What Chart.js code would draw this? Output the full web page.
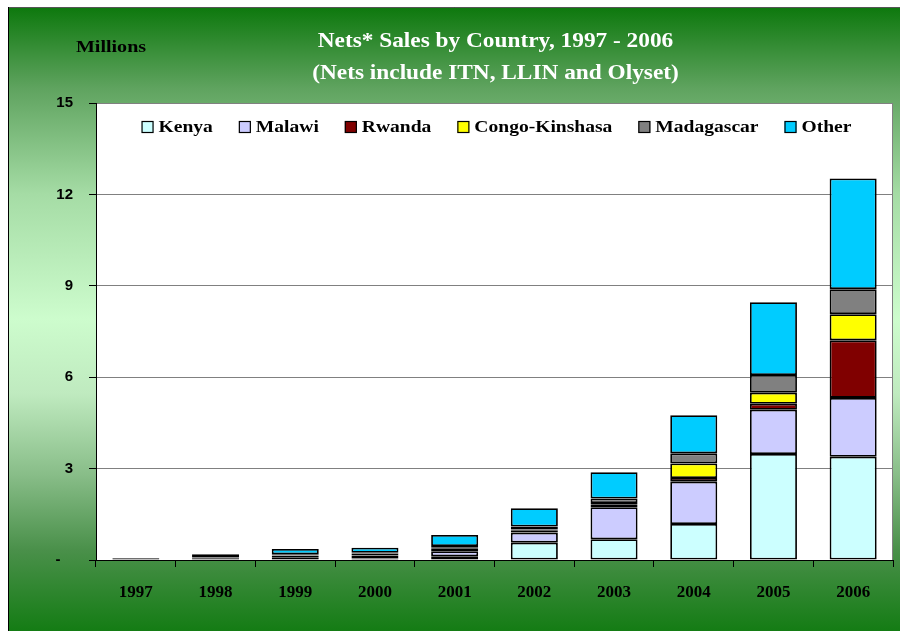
<!DOCTYPE html>
<html>
<head>
<meta charset="utf-8">
<script src="https://cdn.jsdelivr.net/npm/chart.js@4"></script>
<style>
html,body{margin:0;padding:0;background:#fff;}
#wrap{position:relative;width:900px;height:631px;}
</style>
</head>
<body>
<div id="wrap"><canvas id="c" width="900" height="631"></canvas></div>
<script>
const categories = ['1997','1998','1999','2000','2001','2002','2003','2004','2005','2006'];
const kenya      = [0.02, 0.02, 0.03, 0.05, 0.12, 0.57, 0.68, 1.18, 3.48, 3.39];
const malawi     = [0.01, 0.02, 0.04, 0.10, 0.17, 0.33, 1.05, 1.39, 1.45, 1.93];
const rwanda     = [0.00, 0.04, 0.08, 0.05, 0.08, 0.06, 0.10, 0.12, 0.20, 1.89];
const congo      = [0.00, 0.00, 0.01, 0.01, 0.03, 0.04, 0.04, 0.48, 0.36, 0.86];
const madagascar = [0.00, 0.02, 0.03, 0.03, 0.06, 0.10, 0.15, 0.33, 0.58, 0.82];
const other      = [0.03, 0.09, 0.17, 0.16, 0.36, 0.60, 0.86, 1.25, 2.39, 3.63];
const seriesNames = ['Kenya','Malawi','Rwanda','Congo-Kinshasa','Madagascar','Other'];
const seriesColors = ['#CCFFFF','#CCCCFF','#800000','#FFFF00','#808080','#00CCFF'];
const yMax = 15, yStep = 3;
const titleLines = ['Nets* Sales by Country, 1997 - 2006','(Nets include ITN, LLIN and Olyset)'];
const unitLabel = 'Millions';

const serif = '"Liberation Serif", "DejaVu Serif", serif';
const sans = '"Liberation Sans", Arial, sans-serif';

function stretchText(ctx, text, x, y, sx) {
  ctx.save();
  ctx.translate(x, y);
  ctx.scale(sx, 1);
  ctx.fillText(text, 0, 0);
  ctx.restore();
}

const bgPlugin = {
  id: 'bg',
  beforeDraw(chart) {
    const ctx = chart.ctx, a = chart.chartArea;
    ctx.save();
    ctx.fillStyle = '#ffffff';
    ctx.fillRect(0, 0, chart.width, chart.height);
    const g = ctx.createLinearGradient(0, 7, 0, 631);
    g.addColorStop(0.00, '#0d780d');
    g.addColorStop(0.13, '#5fa35f');
    g.addColorStop(0.30, '#a5dca5');
    g.addColorStop(0.50, '#cdfccd');
    g.addColorStop(0.62, '#bfeabf');
    g.addColorStop(0.75, '#88bd88');
    g.addColorStop(0.87, '#4a904a');
    g.addColorStop(1.00, '#147c14');
    ctx.fillStyle = g;
    ctx.fillRect(8, 7, chart.width - 8, chart.height - 7);
    ctx.strokeStyle = '#555555';
    ctx.lineWidth = 1;
    ctx.beginPath();
    ctx.moveTo(8.5, 7.5); ctx.lineTo(chart.width, 7.5);
    ctx.stroke();
    ctx.strokeStyle = '#000000';
    ctx.beginPath();
    ctx.moveTo(8.5, 7); ctx.lineTo(8.5, chart.height);
    ctx.stroke();
    ctx.fillStyle = '#ffffff';
    ctx.fillRect(a.left, a.top, a.right - a.left, a.bottom - a.top);
    ctx.restore();
  },
  afterDraw(chart) {
    const ctx = chart.ctx, a = chart.chartArea;
    ctx.save();
    ctx.strokeStyle = '#808080';
    ctx.lineWidth = 1;
    ctx.beginPath();
    ctx.moveTo(a.right - 0.5, a.top); ctx.lineTo(a.right - 0.5, a.bottom);
    ctx.stroke();
    // title
    const cx = (a.left + a.right) / 2;
    ctx.fillStyle = '#ffffff';
    ctx.font = 'bold 21px ' + serif;
    ctx.textAlign = 'center';
    ctx.textBaseline = 'middle';
    stretchText(ctx, titleLines[0], cx + 1, 42, 1.11);
    stretchText(ctx, titleLines[1], cx + 1, 74, 1.11);
    // units
    ctx.fillStyle = '#000000';
    ctx.font = 'bold 17px ' + serif;
    stretchText(ctx, unitLabel, 111, 48, 1.18);
    // legend
    const sx = 1.15;
    ctx.font = 'bold 17px ' + serif;
    const box = 12, gapText = 5, gapItem = 26;
    const widths = chart.data.datasets.map(d => ctx.measureText(d.label).width * sx);
    let total = 0;
    widths.forEach((w, i) => { total += box + gapText + w + (i < widths.length - 1 ? gapItem : 0); });
    let x = cx - total / 2 + 2;
    const ly = 127;
    ctx.textAlign = 'left';
    chart.data.datasets.forEach((d, i) => {
      ctx.fillStyle = d.backgroundColor;
      ctx.fillRect(x, ly - box / 2, box, box);
      ctx.strokeStyle = '#000000';
      ctx.lineWidth = 1.2;
      ctx.strokeRect(x + 0.5, ly - box / 2 + 0.5, box - 1, box - 1);
      ctx.fillStyle = '#000000';
      stretchText(ctx, d.label, x + box + gapText, ly + 1, sx);
      x += box + gapText + widths[i] + gapItem;
    });
    ctx.restore();
  }
};

const values = [kenya, malawi, rwanda, congo, madagascar, other];
const datasets = seriesNames.map((name, i) => ({
  label: name,
  data: values[i],
  backgroundColor: seriesColors[i],
  borderColor: '#000000',
  borderWidth: 1.8,
  borderSkipped: false,
  categoryPercentage: 1.0,
  barPercentage: 0.59
}));

new Chart(document.getElementById('c'), {
  type: 'bar',
  data: { labels: categories, datasets },
  plugins: [bgPlugin],
  options: {
    responsive: false,
    animation: false,
    layout: { padding: { left: 0, top: 103, right: 7, bottom: 0 } },
    plugins: { legend: { display: false }, title: { display: false }, tooltip: { enabled: false } },
    scales: {
      x: {
        stacked: true,
        afterFit(s) { s.height = 71; },
        grid: { drawOnChartArea: false, drawTicks: true, tickLength: 7, tickColor: '#000000', offset: true },
        border: { color: '#000000', width: 1 },
        ticks: { color: '#000000', font: { family: serif, size: 17, weight: 'bold' }, padding: 15, maxRotation: 0 }
      },
      y: {
        stacked: true,
        min: 0, max: yMax,
        afterFit(s) { s.width = 96; },
        grid: { color: '#808080', lineWidth: 1, tickLength: 7, tickColor: '#000000' },
        border: { color: '#000000', width: 1 },
        ticks: {
          stepSize: yStep,
          color: '#000000',
          font: { family: sans, size: 15, weight: 'bold' },
          padding: 16,
          callback: v => v === 0 ? '-   ' : String(v)
        }
      }
    }
  }
});
</script>
</body>
</html>
